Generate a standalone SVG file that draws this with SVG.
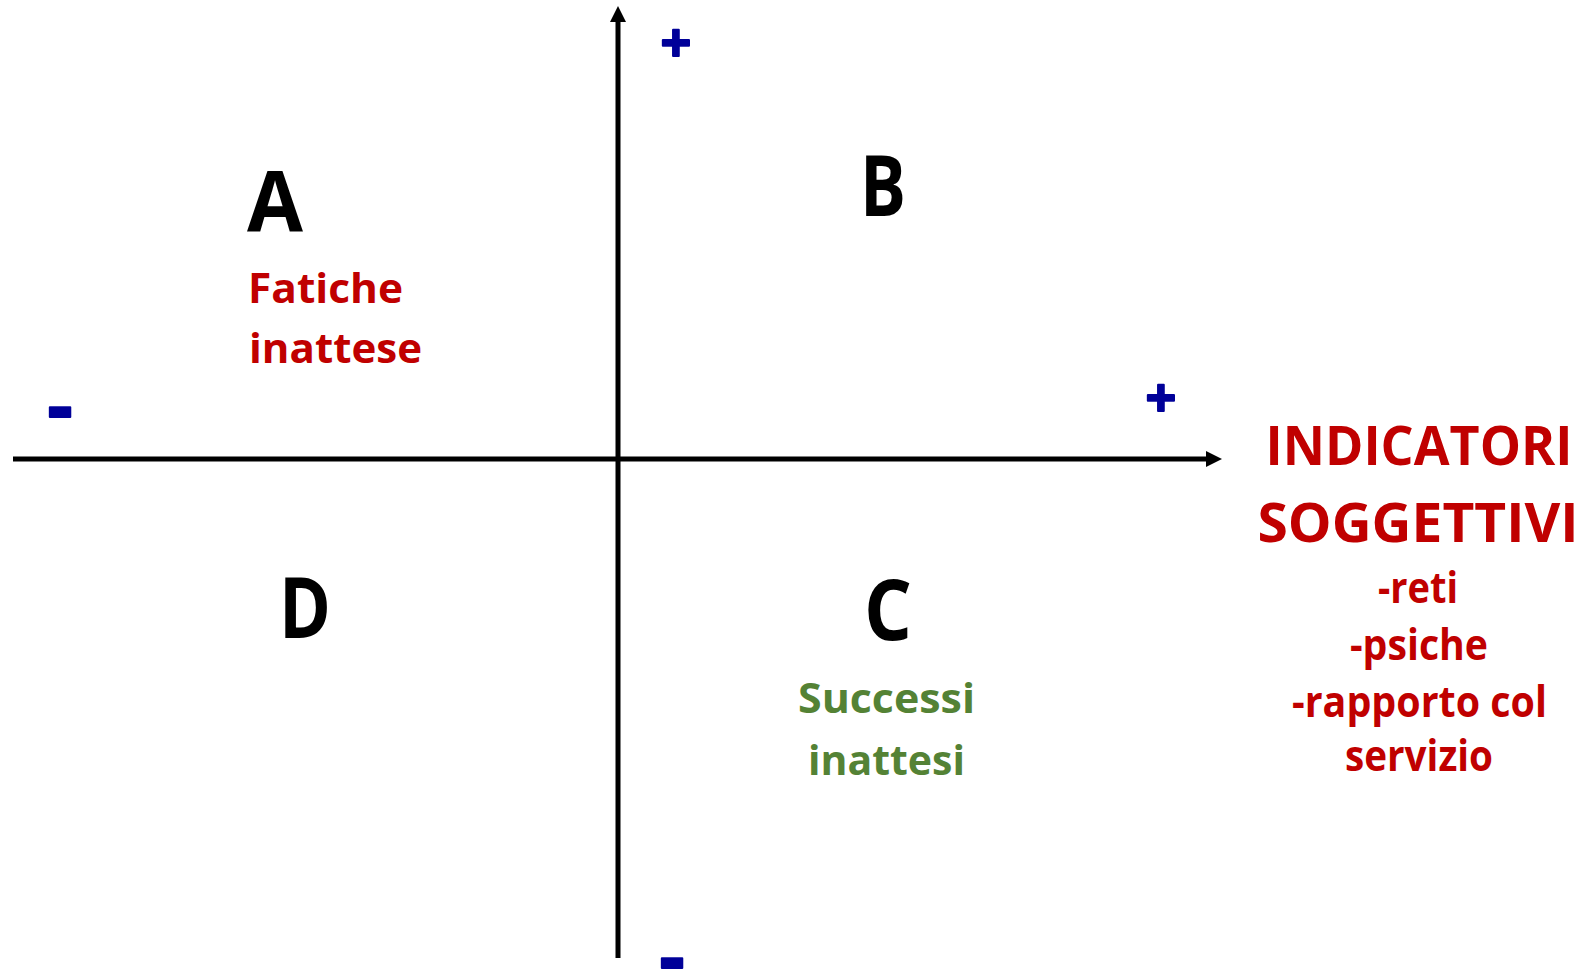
<svg xmlns="http://www.w3.org/2000/svg" width="1591" height="973" viewBox="0 0 1591 973">
<defs>
<marker id="arr" markerUnits="userSpaceOnUse" markerWidth="16" markerHeight="16" refX="0" refY="8" orient="auto" viewBox="0 0 16 16">
<path d="M0,0 L16,8 L0,16 z" fill="#000"/>
</marker>
<style>
text{font-family:"Open Sans","Noto Sans","Liberation Sans",sans-serif;font-weight:700;font-variant-ligatures:none}
.big{font-size:84px;fill:#000}
.red{fill:#C00000}
.green{fill:#548235}
.blue{fill:#000099;stroke:#000099;stroke-width:2;stroke-linejoin:round}
.lbl{font-size:42px}
.ttl{font-size:54px}
.itm{font-size:43px}
.axis{stroke:#000;stroke-width:5;fill:none}
</style>
</defs>
<rect width="1591" height="973" fill="#fff"/>
<g id="connectors">
<line class="axis" x1="618" y1="958" x2="618" y2="22" marker-end="url(#arr)"/>
<line class="axis" x1="13" y1="459" x2="1206" y2="459" marker-end="url(#arr)"/>
</g>
<g id="signs">
<text class="blue" x="676" y="62" font-size="54" text-anchor="middle">+</text>
<text class="blue" x="1161" y="417" font-size="54" text-anchor="middle">+</text>
<text class="blue" x="60" y="433" font-size="78" text-anchor="middle">-</text>
<text class="blue" x="672" y="984" font-size="78" text-anchor="middle">-</text>
</g>
<g id="quadA">
<text class="big" x="247" y="231" textLength="56" lengthAdjust="spacingAndGlyphs">A</text>
<text class="red lbl" x="248" y="303" textLength="155" lengthAdjust="spacingAndGlyphs">Fatiche</text>
<text class="red lbl" x="249" y="363" textLength="173" lengthAdjust="spacingAndGlyphs">inattese</text>
</g>
<g id="quadB">
<text class="big" x="860" y="216" textLength="46" lengthAdjust="spacingAndGlyphs">B</text>
</g>
<g id="quadC">
<text class="big" x="864" y="640" textLength="48" lengthAdjust="spacingAndGlyphs">C</text>
<text class="green lbl" x="798" y="713" textLength="177" lengthAdjust="spacingAndGlyphs">Successi</text>
<text class="green lbl" x="808" y="775" textLength="157" lengthAdjust="spacingAndGlyphs">inattesi</text>
</g>
<g id="quadD">
<text class="big" x="279" y="638" textLength="52" lengthAdjust="spacingAndGlyphs">D</text>
</g>
<g id="indicatori">
<text class="red ttl" x="1419" y="465" text-anchor="middle" textLength="307" lengthAdjust="spacingAndGlyphs">INDICATORI</text>
<text class="red ttl" x="1418" y="542" text-anchor="middle" textLength="321" lengthAdjust="spacingAndGlyphs">SOGGETTIVI</text>
<text class="red itm" x="1378" y="603" textLength="80" lengthAdjust="spacingAndGlyphs">-reti</text>
<text class="red itm" x="1350" y="660" textLength="138" lengthAdjust="spacingAndGlyphs">-psiche</text>
<text class="red itm" x="1292" y="717" textLength="255" lengthAdjust="spacingAndGlyphs">-rapporto col</text>
<text class="red itm" x="1345" y="771" textLength="148" lengthAdjust="spacingAndGlyphs">servizio</text>
</g>
</svg>
